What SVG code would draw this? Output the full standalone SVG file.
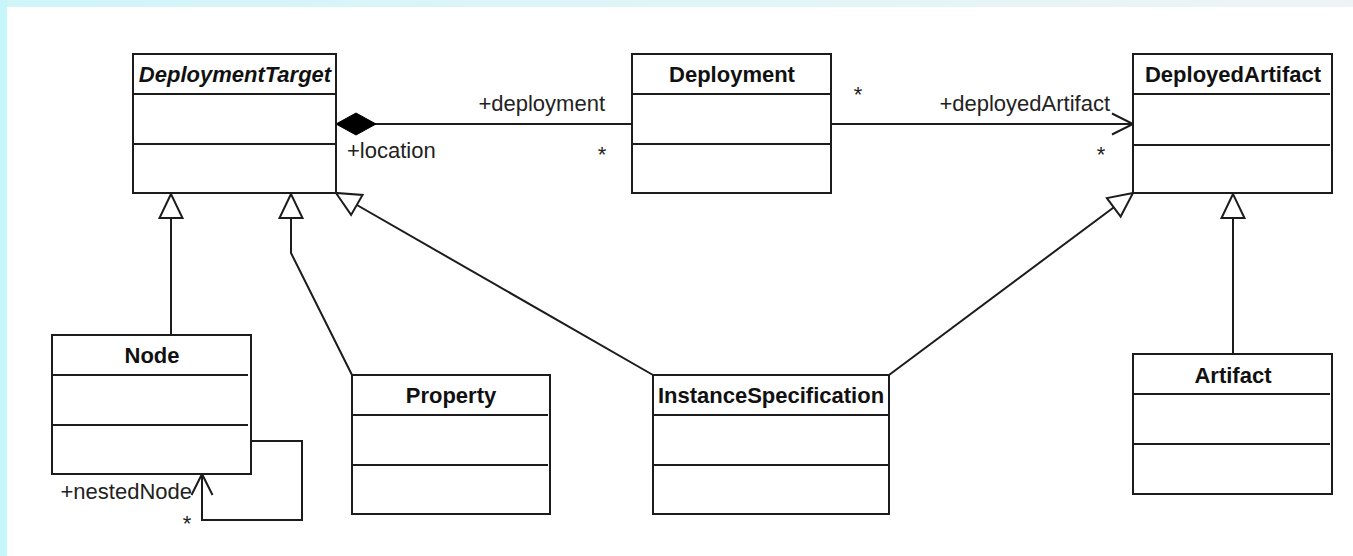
<svg xmlns="http://www.w3.org/2000/svg" width="1353" height="556" viewBox="0 0 1353 556">
  <defs>
    <style>
      .box{fill:#fff;stroke:#1c1c1c;stroke-width:2}
      .sep{stroke:#1c1c1c;stroke-width:2}
      .title{font-family:"Liberation Sans",Arial,sans-serif;font-size:22px;font-weight:bold;text-anchor:middle;fill:#111}
      .lbl{font-family:"Liberation Sans",Arial,sans-serif;font-size:22px;fill:#222}
      .edge{fill:none;stroke:#1c1c1c;stroke-width:2}
    </style>
    <linearGradient id="topband" x1="0" y1="0" x2="1" y2="0">
      <stop offset="0" stop-color="#d0f5f9"/>
      <stop offset="1" stop-color="#eef4f6"/>
    </linearGradient>
    <marker id="gen" markerUnits="userSpaceOnUse" orient="auto" refX="0" refY="0" markerWidth="30" markerHeight="30" style="overflow:visible">
      <path d="M0,0 L-24,-11.5 L-24,11.5 Z" fill="#fff" stroke="#1c1c1c" stroke-width="2" stroke-linejoin="miter"/>
    </marker>
    <marker id="open" markerUnits="userSpaceOnUse" orient="auto" refX="0" refY="0" markerWidth="30" markerHeight="30" style="overflow:visible">
      <path d="M-21,-10.5 L0,0 L-21,10.5" fill="none" stroke="#1c1c1c" stroke-width="2"/>
    </marker>
    <marker id="comp" markerUnits="userSpaceOnUse" orient="auto" refX="0" refY="0" markerWidth="44" markerHeight="26" style="overflow:visible">
      <path d="M0,0 L20,-11 L40,0 L20,11 Z" fill="#000" stroke="#000" stroke-width="1"/>
    </marker>
  </defs>

  <rect x="0" y="0" width="1353" height="556" fill="#fff"/>
  <rect x="0" y="0" width="1353" height="7" fill="url(#topband)"/>
  <rect x="0" y="0" width="7" height="556" fill="#c6f5fa"/>

  <g id="connectors">
    <path class="edge" d="M336,124 H632" marker-start="url(#comp)"/>
    <path class="edge" d="M831,124 H1133" marker-end="url(#open)"/>
    <path class="edge" d="M171,335 V194" marker-end="url(#gen)"/>
    <path class="edge" d="M352,375 L291,253 V194" marker-end="url(#gen)"/>
    <path class="edge" d="M653,375 L336,193" marker-end="url(#gen)"/>
    <path class="edge" d="M889,375 L1133,193" marker-end="url(#gen)"/>
    <path class="edge" d="M1233,354 V194" marker-end="url(#gen)"/>
    <path class="edge" d="M251,441 H302 V520 H202 V474" marker-end="url(#open)"/>
    <text class="lbl" x="605" y="111" text-anchor="end">+deployment</text>
    <text class="lbl" x="347" y="158">+location</text>
    <text class="lbl" x="602" y="162" text-anchor="middle">*</text>
    <text class="lbl" x="858" y="102" text-anchor="middle">*</text>
    <text class="lbl" x="1110" y="111" text-anchor="end">+deployedArtifact</text>
    <text class="lbl" x="1101" y="162" text-anchor="middle">*</text>
    <text class="lbl" x="192" y="499" text-anchor="end">+nestedNode</text>
    <text class="lbl" x="187" y="531" text-anchor="middle">*</text>
  </g>

  <g id="DeploymentTarget">
    <rect class="box" x="133" y="54" width="203" height="139"/>
    <line class="sep" x1="133" y1="94" x2="335" y2="94"/>
    <line class="sep" x1="133" y1="144" x2="335" y2="144"/>
    <text class="title" x="235" y="82" font-style="italic">DeploymentTarget</text>
  </g>
  <g id="Deployment">
    <rect class="box" x="632" y="54" width="199" height="139"/>
    <line class="sep" x1="632" y1="94" x2="830" y2="94"/>
    <line class="sep" x1="632" y1="144" x2="830" y2="144"/>
    <text class="title" x="732" y="82">Deployment</text>
  </g>
  <g id="DeployedArtifact">
    <rect class="box" x="1133" y="54" width="199" height="139"/>
    <line class="sep" x1="1133" y1="94" x2="1330" y2="94"/>
    <line class="sep" x1="1133" y1="145" x2="1330" y2="145"/>
    <text class="title" x="1233" y="82">DeployedArtifact</text>
  </g>
  <g id="Node">
    <rect class="box" x="52" y="335" width="199" height="139"/>
    <line class="sep" x1="52" y1="375" x2="248" y2="375"/>
    <line class="sep" x1="52" y1="425" x2="248" y2="425"/>
    <text class="title" x="152" y="363">Node</text>
  </g>
  <g id="Property">
    <rect class="box" x="352" y="375" width="198" height="139"/>
    <line class="sep" x1="352" y1="415" x2="548" y2="415"/>
    <line class="sep" x1="352" y1="465" x2="548" y2="465"/>
    <text class="title" x="451" y="403">Property</text>
  </g>
  <g id="InstanceSpecification">
    <rect class="box" x="653" y="375" width="236" height="139"/>
    <line class="sep" x1="653" y1="415" x2="888" y2="415"/>
    <line class="sep" x1="653" y1="465" x2="888" y2="465"/>
    <text class="title" x="771" y="403">InstanceSpecification</text>
  </g>
  <g id="Artifact">
    <rect class="box" x="1133" y="354" width="199" height="140"/>
    <line class="sep" x1="1133" y1="394" x2="1330" y2="394"/>
    <line class="sep" x1="1133" y1="444" x2="1330" y2="444"/>
    <text class="title" x="1233" y="383">Artifact</text>
  </g>
</svg>
